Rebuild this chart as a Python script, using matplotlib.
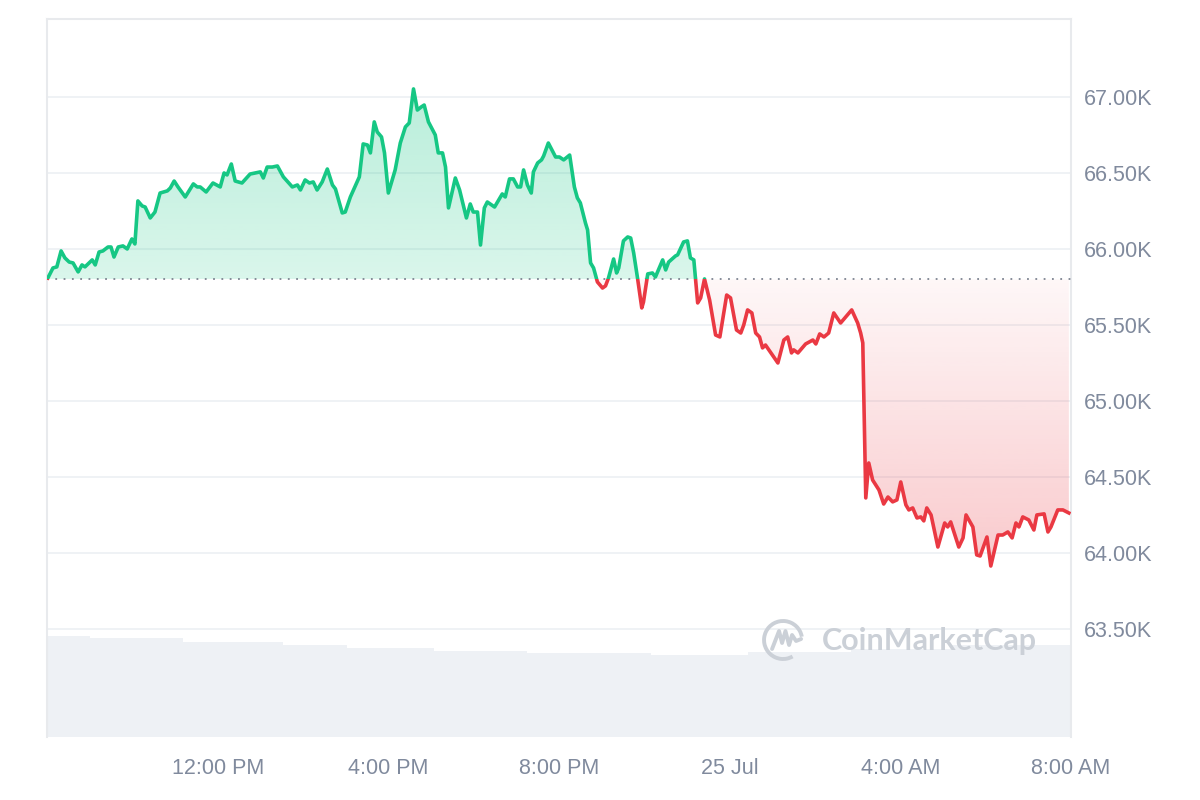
#%% IMPORTS ~~~~~~~~~~~~~~~~~~~~~~~~~~~~~~~~~~~~~~~~~~~~
import numpy as np
import pandas as pd
import matplotlib
matplotlib.use('Agg')
import matplotlib.pyplot as plt
import matplotlib.dates as mdates
import matplotlib.colors as mcolors
from matplotlib.patches import Rectangle, Arc

#%% DATA ~~~~~~~~~~~~~~~~~~~~~~~~~~~~~~~~~~~~~~~~~~~~
start_time = '2024-07-24 08:00'

# hours after start, price in thousands of USD
price_hours = [
    0.02, 0.14, 0.23, 0.33, 0.42, 0.52, 0.61, 0.73, 0.82, 0.89, 1.06, 1.13, 1.22, 1.31,
    1.43, 1.50, 1.57, 1.67, 1.78, 1.88, 1.99, 2.06, 2.13, 2.23, 2.30, 2.42, 2.53, 2.65,
    2.82, 2.89, 2.98, 3.07, 3.24, 3.43, 3.52, 3.59, 3.73, 3.89, 4.06, 4.15, 4.22, 4.32,
    4.41, 4.57, 4.76, 4.88, 5.00, 5.07, 5.16, 5.28, 5.40, 5.54, 5.75, 5.87, 5.94, 6.05,
    6.15, 6.24, 6.33, 6.45, 6.57, 6.69, 6.76, 6.92, 6.99, 7.11, 7.32, 7.41, 7.51, 7.58,
    7.67, 7.74, 7.84, 7.91, 8.00, 8.09, 8.16, 8.28, 8.40, 8.49, 8.59, 8.68, 8.77, 8.84,
    8.94, 9.10, 9.17, 9.27, 9.34, 9.41, 9.57, 9.67, 9.83, 9.92, 9.99, 10.09, 10.16, 10.25,
    10.32, 10.49, 10.67, 10.74, 10.84, 10.93, 11.03, 11.10, 11.17, 11.26, 11.35, 11.40,
    11.50, 11.59, 11.64, 11.75, 11.92, 12.01, 12.11, 12.25, 12.36, 12.43, 12.50, 12.62,
    12.67, 12.74, 12.81, 12.90, 13.02, 13.09, 13.16, 13.28, 13.35, 13.40, 13.51, 13.61,
    13.68, 13.75, 13.84, 13.94, 13.98, 14.08, 14.19, 14.26, 14.43, 14.50, 14.57, 14.73,
    14.78, 14.92, 15.01, 15.08, 15.16, 15.25, 15.32, 15.41, 15.53, 15.67, 15.77, 15.93,
    16.02, 16.16, 16.26, 16.33, 16.42, 16.52, 16.61, 16.70, 16.77, 16.84, 17.13, 17.27,
    17.36, 17.45, 17.50, 17.60, 17.78, 17.95, 18.02, 18.11, 18.21, 18.32, 18.44, 18.60,
    18.86, 19.00, 19.07, 19.12, 19.19, 19.26, 19.35, 19.50, 19.61, 19.71, 19.82, 19.92,
    20.01, 20.13, 20.20, 20.29, 20.39, 20.48, 20.55, 20.62, 20.72, 20.88, 21.04, 21.11,
    21.18, 21.37, 21.47, 21.54, 21.70, 21.79, 21.87, 22.03, 22.12, 22.29, 22.40, 22.52,
    22.62, 22.71, 22.78, 22.87, 23.01, 23.13, 23.20, 23.37, 23.46, 23.53, 23.69, 23.81,
    23.95,
]
price_k = [
    65.809, 65.875, 65.882, 65.987, 65.941, 65.914, 65.908, 65.849, 65.895, 65.882, 65.928,
    65.895, 65.980, 65.987, 66.013, 66.013, 65.947, 66.013, 66.020, 66.000, 66.066, 66.033,
    66.316, 66.283, 66.276, 66.204, 66.243, 66.368, 66.382, 66.401, 66.447, 66.408, 66.342,
    66.428, 66.408, 66.408, 66.375, 66.434, 66.408, 66.500, 66.487, 66.559, 66.447, 66.434,
    66.493, 66.500, 66.507, 66.467, 66.539, 66.539, 66.546, 66.474, 66.408, 66.421, 66.388,
    66.454, 66.434, 66.441, 66.388, 66.441, 66.526, 66.421, 66.395, 66.237, 66.243, 66.342,
    66.474, 66.691, 66.684, 66.632, 66.836, 66.770, 66.737, 66.632, 66.368, 66.454, 66.520,
    66.697, 66.803, 66.829, 67.053, 66.914, 66.934, 66.947, 66.836, 66.750, 66.632, 66.632,
    66.539, 66.270, 66.467, 66.388, 66.204, 66.296, 66.243, 66.243, 66.026, 66.270, 66.309,
    66.276, 66.362, 66.342, 66.461, 66.461, 66.408, 66.408, 66.520, 66.421, 66.368, 66.507,
    66.566, 66.586, 66.612, 66.697, 66.605, 66.605, 66.586, 66.618, 66.408, 66.336, 66.303,
    66.171, 66.125, 65.908, 65.875, 65.783, 65.743, 65.757, 65.809, 65.934, 65.842, 65.875,
    66.053, 66.079, 66.072, 65.974, 65.809, 65.612, 65.651, 65.836, 65.842, 65.816, 65.928,
    65.862, 65.914, 65.954, 65.961, 66.046, 66.053, 65.941, 65.928, 65.645, 65.678, 65.803,
    65.664, 65.434, 65.421, 65.697, 65.678, 65.467, 65.447, 65.500, 65.599, 65.579, 65.447,
    65.421, 65.349, 65.368, 65.250, 65.401, 65.421, 65.316, 65.336, 65.316, 65.375, 65.401,
    65.375, 65.441, 65.421, 65.447, 65.579, 65.513, 65.599, 65.513, 65.447, 65.382, 64.362,
    64.592, 64.480, 64.414, 64.322, 64.368, 64.336, 64.349, 64.467, 64.316, 64.283, 64.296,
    64.230, 64.237, 64.211, 64.296, 64.250, 64.039, 64.197, 64.171, 64.204, 64.039, 64.099,
    64.250, 64.171, 63.987, 63.980, 64.105, 63.914, 64.118, 64.118, 64.138, 64.099, 64.197,
    64.171, 64.237, 64.217, 64.151, 64.250, 64.257, 64.138, 64.171, 64.283, 64.283, 64.263,
]
open_price_k = 65.80

# 24h volume, billions of USD
volume_hours = [0, 1.0, 3.19, 5.54, 7.04, 9.06, 11.26, 14.15, 16.42, 18.84, 21.18, 23.3, 24]
volume_b = [32.4, 31.8, 30.5, 29.5, 28.6, 27.6, 26.9, 26.3, 27.3, 28.2, 29.5, 29.5, 29.5]

y_ticks = [63.5, 64.0, 64.5, 65.0, 65.5, 66.0, 66.5, 67.0]
x_tick_hours = [4, 8, 12, 16, 20, 24]
x_tick_labels = ['12:00 PM', '4:00 PM', '8:00 PM', '25 Jul', '4:00 AM', '8:00 AM']

#%% CONFIGURATION ~~~~~~~~~~~~~~~~~~~~~~~~~~~~~~~~~~~~~~~~~~~~
GREEN = '#16c784'
RED = '#ea3943'
GRID = '#eff2f5'
LABEL = '#808a9d'
plt.rcParams['font.family'] = ['Liberation Sans', 'DejaVu Sans']


def gradient_fill(ax, path_coll, color, a_top, a_bot, x0, x1, y_bot, y_top):
    """paint a vertical alpha gradient clipped to a fill_between polygon"""
    grad = np.zeros((256, 1, 4))
    grad[:, :, :3] = mcolors.to_rgb(color)
    grad[:, 0, 3] = np.linspace(a_top, a_bot, 256)
    im = ax.imshow(grad, aspect='auto', origin='upper',
                   extent=[x0, x1, y_bot, y_top], zorder=1, interpolation='bilinear')
    im.set_clip_path(path_coll.get_paths()[0], transform=ax.transData)
    path_coll.set_visible(False)


#%% MAIN ~~~~~~~~~~~~~~~~~~~~~~~~~~~~~~~~~~~~~~~~~~~~
def main():
    t0 = pd.Timestamp(start_time)
    times = t0 + pd.to_timedelta(price_hours, unit='h')
    x = mdates.date2num(times.to_pydatetime())
    p = np.array(price_k)
    xlo = mdates.date2num(t0.to_pydatetime())
    xhi = mdates.date2num((t0 + pd.Timedelta(hours=24)).to_pydatetime())
    ylo, yhi = 62.789, 67.513

    fig = plt.figure(figsize=(12, 8), dpi=100)
    fig.patch.set_facecolor('white')

    # volume in the background
    ax_v = fig.add_axes([0.03917, 0.07875, 0.85333, 0.8975])
    vx = mdates.date2num((t0 + pd.to_timedelta(volume_hours, unit='h')).to_pydatetime())
    ax_v.fill_between(vx, 0, volume_b, step='post', color='#eef1f5', lw=0)
    ax_v.set_xlim(xlo, xhi)
    ax_v.set_ylim(0, 230)
    ax_v.axis('off')

    ax = fig.add_axes([0.03917, 0.07875, 0.85333, 0.8975])
    ax.patch.set_visible(False)

    # gradient fills above/below open price
    base = np.full_like(p, open_price_k)
    up = ax.fill_between(x, base, np.maximum(p, base), lw=0)
    gradient_fill(ax, up, GREEN, 0.30, 0.16, x[0], x[-1], open_price_k, p.max())
    dn = ax.fill_between(x, np.minimum(p, base), base, lw=0)
    gradient_fill(ax, dn, RED, 0.04, 0.27, x[0], x[-1], p.min(), open_price_k)

    # line, green above open and red below
    for col, y0, y1 in [(GREEN, open_price_k, yhi), (RED, ylo, open_price_k)]:
        ln, = ax.plot(x, p, color=col, lw=2.6, solid_joinstyle='round', zorder=4)
        ln.set_clip_path(Rectangle((xlo, y0), xhi - xlo, y1 - y0, transform=ax.transData))

    ax.axhline(open_price_k, color='#7d8491', lw=1.3, ls=(0, (1, 3.6)), zorder=3)

    ax.set_xlim(xlo, xhi)
    ax.set_ylim(ylo, yhi)

    ax.set_yticks(y_ticks)
    ax.set_yticklabels([f'{v:.2f}K' for v in y_ticks])
    ax.yaxis.tick_right()
    xt = mdates.date2num((t0 + pd.to_timedelta(x_tick_hours, unit='h')).to_pydatetime())
    ax.set_xticks(xt)
    ax.set_xticklabels(x_tick_labels)
    ax.tick_params(axis='both', length=0, labelsize=15.5, labelcolor=LABEL)
    ax.tick_params(axis='y', pad=9)
    ax.tick_params(axis='x', pad=15)
    ax.grid(axis='y', color=GRID, lw=1.4)
    ax.set_axisbelow(True)
    for side in ['left', 'right', 'top']:
        ax.spines[side].set_color('#e8eaed')
        ax.spines[side].set_linewidth(1.5)
    ax.spines['bottom'].set_visible(False)

    # watermark
    lax = fig.add_axes([0.6342, 0.1725, 0.0367, 0.055])
    lax.set_xlim(-1.1, 1.1)
    lax.set_ylim(-1.1, 1.1)
    lax.axis('off')
    wm = '#cbd0d7'
    lax.add_patch(Arc((0, 0), 1.9, 1.9, theta1=10, theta2=300, color=wm, lw=2.8))
    mx = [-0.55, -0.2, -0.05, 0.12, 0.3, 0.45, 0.65, 0.9]
    my = [-0.45, 0.45, -0.15, 0.45, -0.25, 0.25, -0.05, 0.05]
    lax.plot(mx, my, color=wm, lw=2.8, solid_joinstyle='round', solid_capstyle='round')
    fig.text(0.685, 0.199, 'CoinMarketCap', color=wm, fontsize=22, fontweight='bold',
             family=['Lato', 'DejaVu Sans'], va='center', ha='left')

    fig.savefig('out.png', dpi=100, facecolor='white')
    plt.close(fig)


#%% SELF-RUN ~~~~~~~~~~~~~~~~~~~~~~~~~~~~~~~~~~~~~~~~~~~~
if __name__ == "__main__":
    main()
